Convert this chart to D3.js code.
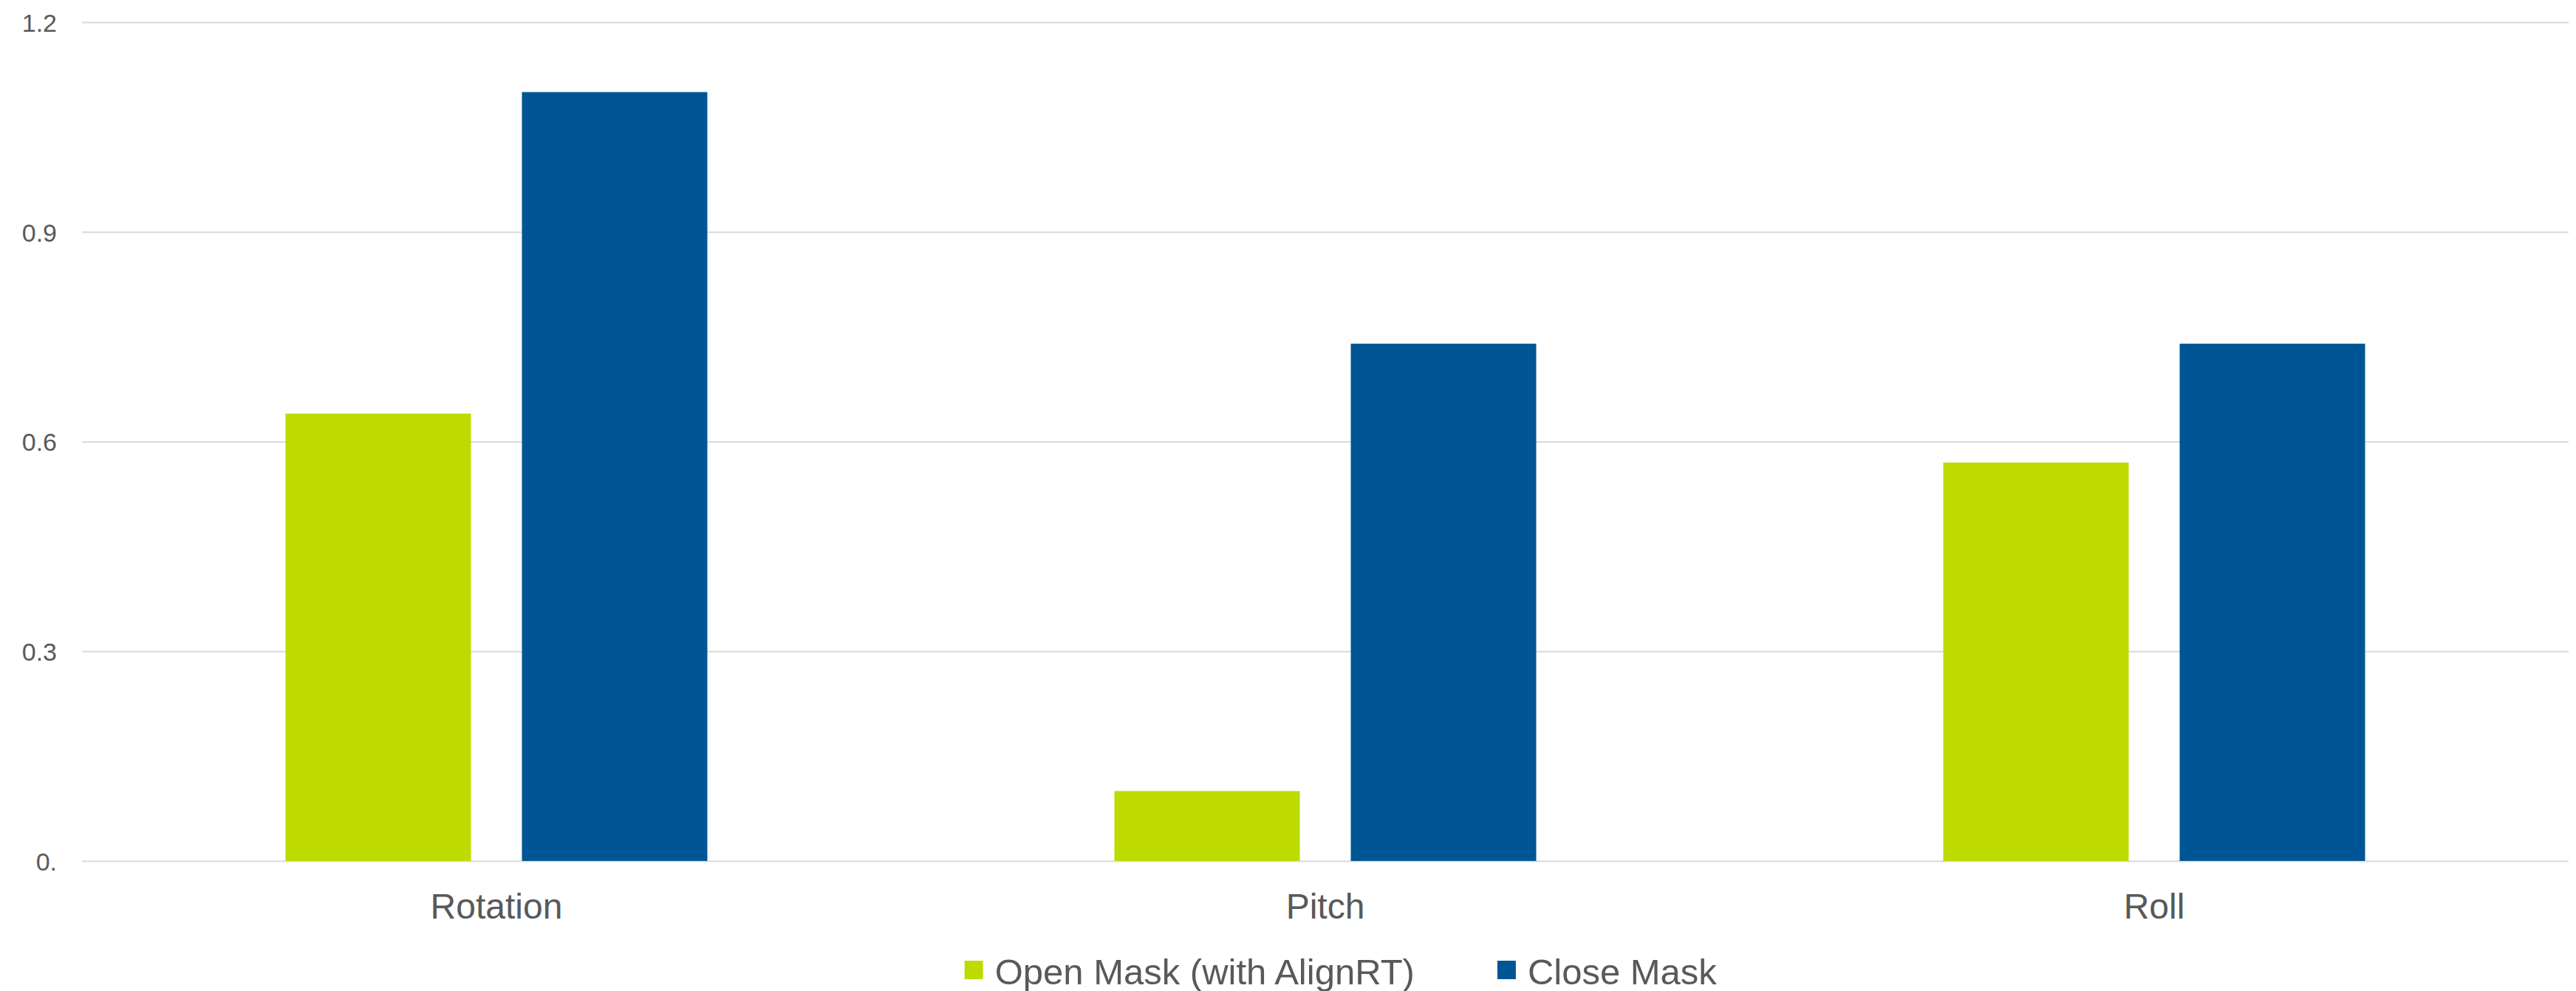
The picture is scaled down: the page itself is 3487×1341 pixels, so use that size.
<!DOCTYPE html>
<html>
<head>
<meta charset="utf-8">
<script src="https://cdn.jsdelivr.net/npm/d3@7"></script>
<style>
  body { margin: 0; background: #fff; }
  svg { display: block; font-family: "Liberation Sans", Arial, sans-serif; }
</style>
</head>
<body>
<svg id="chart"></svg>
<script>
const categories = ['Rotation', 'Pitch', 'Roll'];
const seriesNames = ['Open Mask (with AlignRT)', 'Close Mask'];
const openMask = [0.64, 0.1, 0.57];
const closeMask = [1.1, 0.74, 0.74];
const yTicks = [0, 0.3, 0.6, 0.9, 1.2];
const yTickLabels = ['0.', '0.3', '0.6', '0.9', '1.2'];
const colors = ['#bddb00', '#005694'];

const outerWidth = 3487;
const outerHeight = 1341;
const margin = { left: 111, right: 3477, top: 30, bottom: 1165 };

const svg = d3.select('#chart')
  .attr('width', outerWidth)
  .attr('height', outerHeight);

const rows = categories.map((c, i) => ({ cat: c, values: [openMask[i], closeMask[i]] }));

// scales
const x = d3.scaleBand().domain(categories).range([margin.left, margin.right]).padding(0);
const xInner = d3.scaleBand()
  .domain(seriesNames)
  .range([0, x.bandwidth()])
  .paddingInner(0.2156)
  .paddingOuter(0.861);
const y = d3.scaleLinear().domain([0, 1.2]).range([margin.bottom, margin.top]);

// gridlines + y labels
const yAxis = d3.axisLeft(y)
  .tickValues(yTicks)
  .tickSize(-(margin.right - margin.left))
  .tickPadding(34)
  .tickFormat((d, i) => yTickLabels[i]);

const gy = svg.append('g')
  .attr('transform', `translate(${margin.left},0)`)
  .call(yAxis);
gy.select('.domain').remove();
gy.selectAll('.tick line').attr('stroke', '#d9d9d9').attr('stroke-width', 2);
gy.selectAll('.tick text')
  .attr('fill', '#595959')
  .attr('font-size', 34)
  .attr('dy', '0.36em');

// bars
const groups = svg.append('g').selectAll('g')
  .data(rows)
  .join('g')
  .attr('transform', d => `translate(${x(d.cat)},0)`);

groups.selectAll('rect')
  .data(d => d.values.map((v, i) => ({ key: seriesNames[i], v, i })))
  .join('rect')
  .attr('x', d => xInner(d.key))
  .attr('width', xInner.bandwidth())
  .attr('y', d => y(d.v))
  .attr('height', d => y(0) - y(d.v))
  .attr('fill', d => colors[d.i]);

// x axis labels
const xAxis = d3.axisBottom(x).tickSize(0).tickPadding(0);
const gx = svg.append('g')
  .attr('transform', `translate(0,${margin.bottom})`)
  .call(xAxis);
gx.select('.domain').remove();
gx.selectAll('.tick text')
  .attr('fill', '#595959')
  .attr('font-size', 48)
  .attr('dy', null)
  .attr('y', 78);

// legend
const legend = svg.append('g');
const items = legend.selectAll('g')
  .data(seriesNames)
  .join('g');
items.append('rect')
  .attr('width', 25)
  .attr('height', 25)
  .attr('y', -25)
  .attr('fill', (d, i) => colors[i]);
items.append('text')
  .attr('x', 41)
  .attr('y', 0)
  .attr('dy', 7)
  .attr('fill', '#595959')
  .attr('font-size', 49)
  .text(d => d);

let offset = 0;
items.each(function () {
  const w = this.getBBox().width;
  d3.select(this).attr('transform', `translate(${offset},1325)`);
  offset += w + 112;
});
const total = offset - 112;
legend.attr('transform', `translate(${1815 - total / 2},0)`);
</script>
</body>
</html>
